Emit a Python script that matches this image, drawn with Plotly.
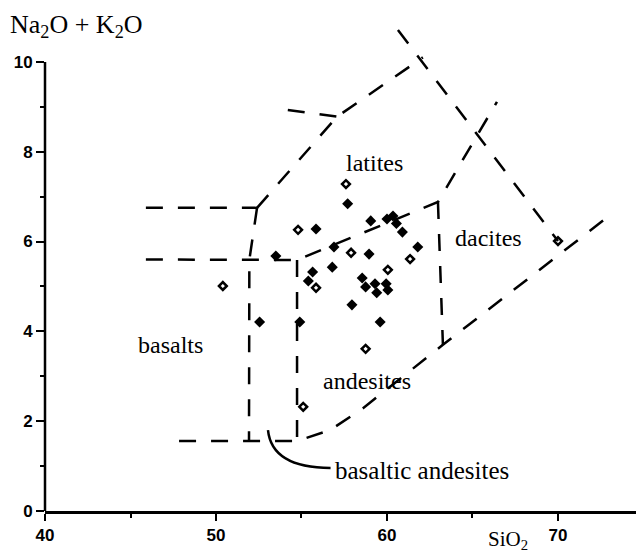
import plotly.graph_objects as go

# ---- data ----
filled_sio2 = [57.7, 55.85, 59.05, 60.0, 60.35, 60.55, 60.9, 61.8, 53.5, 56.9, 58.95, 56.8,
               55.65, 55.4, 58.55, 58.75, 59.3, 59.4, 59.95, 60.05, 57.95, 52.55, 54.9, 59.6]
filled_alk = [6.84, 6.28, 6.46, 6.50, 6.57, 6.40, 6.21, 5.88, 5.68, 5.88, 5.72, 5.43,
              5.32, 5.12, 5.19, 4.99, 5.06, 4.86, 5.06, 4.92, 4.59, 4.21, 4.21, 4.21]
open_sio2 = [57.6, 54.8, 61.35, 57.9, 60.05, 55.85, 50.4, 58.75, 55.1, 70.0]
open_alk = [7.28, 6.26, 5.61, 5.75, 5.37, 4.97, 5.01, 3.61, 2.32, 6.01]

# field boundaries (SiO2, Na2O+K2O)
upper_basalt_x = [45.9, 52.4]
upper_basalt_y = [6.75, 6.75]
latite_left_x = [52.4, 57.08, 62.1]
latite_left_y = [6.75, 8.78, 10.1]
latite_top_x = [54.2, 57.08]
latite_top_y = [8.93, 8.78]
basalt_right_x = [52.4, 51.95, 51.93]
basalt_right_y = [6.75, 5.59, 1.56]
lower_basalt_x = [45.9, 54.74, 62.98, 66.43]
lower_basalt_y = [5.60, 5.59, 6.88, 9.11]
bas_andesite_right_x = [54.74, 54.74]
bas_andesite_right_y = [5.59, 1.56]
bottom_x = [47.84, 54.74, 56.67, 58.6, 63.27, 73.22]
bottom_y = [1.56, 1.56, 1.80, 2.29, 3.70, 6.64]
andesite_right_x = [62.98, 63.27]
andesite_right_y = [6.88, 3.70]
dacite_right_x = [60.64, 70.0]
dacite_right_y = [10.71, 6.01]

field_names = ["latites", "dacites", "basalts", "andesites"]
field_sio2 = [59.24, 65.91, 47.31, 58.83]
field_alk = [7.75, 6.08, 3.70, 2.90]

x_ticks = [40, 50, 60, 70]
x_minor = [45, 55, 65, 75]
y_ticks = [0, 2, 4, 6, 8, 10]
y_minor = [1, 3, 5, 7, 9]

fig = go.Figure()

dash_line = dict(color="black", width=2.5, dash="17px,15px")
for bx, by in [(upper_basalt_x, upper_basalt_y), (latite_left_x, latite_left_y),
               (latite_top_x, latite_top_y), (basalt_right_x, basalt_right_y),
               (lower_basalt_x, lower_basalt_y), (bas_andesite_right_x, bas_andesite_right_y),
               (bottom_x, bottom_y), (andesite_right_x, andesite_right_y),
               (dacite_right_x, dacite_right_y)]:
    fig.add_trace(go.Scatter(x=bx, y=by, mode="lines", line=dash_line,
                             hoverinfo="skip", showlegend=False))

fig.add_trace(go.Scatter(x=filled_sio2, y=filled_alk, mode="markers",
                         marker=dict(symbol="diamond", size=8.5, color="black"),
                         showlegend=False))
fig.add_trace(go.Scatter(x=open_sio2, y=open_alk, mode="markers",
                         marker=dict(symbol="diamond-open", size=6, color="black",
                                     line=dict(width=2.5, color="black")),
                         showlegend=False))

serif = "Liberation Serif, Times New Roman, serif"
annotations = []
for name, sx, sy in zip(field_names, field_sio2, field_alk):
    annotations.append(dict(x=sx, y=sy, xref="x", yref="y", text=name, showarrow=False,
                            font=dict(family=serif, size=24, color="black"),
                            xanchor="center", yanchor="middle"))
annotations.append(dict(x=56.85, y=0.91, xref="x", yref="y", text="basaltic andesites",
                        showarrow=False, font=dict(family=serif, size=25, color="black"),
                        xanchor="left", yanchor="middle"))
annotations.append(dict(x=-0.062, y=0.964, xref="paper", yref="paper",
                        text="Na<sub>2</sub>O + K<sub>2</sub>O", showarrow=False,
                        font=dict(family=serif, size=26, color="black"),
                        xanchor="left", yanchor="middle"))
annotations.append(dict(x=67.08, y=-0.058, xref="x", yref="paper",
                        text="SiO<sub>2</sub>", showarrow=False,
                        font=dict(family=serif, size=21, color="black"),
                        xanchor="center", yanchor="middle"))

shapes = [
    dict(type="line", xref="paper", yref="y", x0=0, x1=0, y0=0, y1=10,
         line=dict(color="black", width=2.5)),
    dict(type="path", xref="x", yref="y",
         path="M 53.04,1.80 Q 53.27,0.96 56.7,0.96",
         line=dict(color="black", width=2.5)),
]

tickfont = dict(family="Liberation Sans, Arial, sans-serif", size=17, color="black", weight="bold")

# the page body has an 8px default margin, so the figure is 8px smaller and margins shifted
fig.update_layout(
    width=636, height=546,
    margin=dict(l=37, r=0, t=0, b=43),
    paper_bgcolor="white", plot_bgcolor="white",
    showlegend=False,
    annotations=annotations,
    shapes=shapes,
    xaxis=dict(range=[40, 75.03], tickvals=x_ticks, ticktext=[str(v) for v in x_ticks],
               ticks="outside", ticklen=7, tickwidth=2, tickcolor="black",
               showline=True, linewidth=2.5, linecolor="black",
               showgrid=False, zeroline=False, tickfont=tickfont, automargin=False,
               minor=dict(tickvals=x_minor, ticks="outside", ticklen=4, tickwidth=2,
                          tickcolor="black", showgrid=False)),
    yaxis=dict(range=[0, 11.2], tickvals=y_ticks, ticktext=[str(v) for v in y_ticks],
               ticks="outside", ticklen=8, tickwidth=2, tickcolor="black",
               showline=False, showgrid=False, zeroline=False, tickfont=tickfont, automargin=False,
               minor=dict(tickvals=y_minor, ticks="outside", ticklen=4, tickwidth=2,
                          tickcolor="black", showgrid=False)),
)

fig.write_html("out.html")
